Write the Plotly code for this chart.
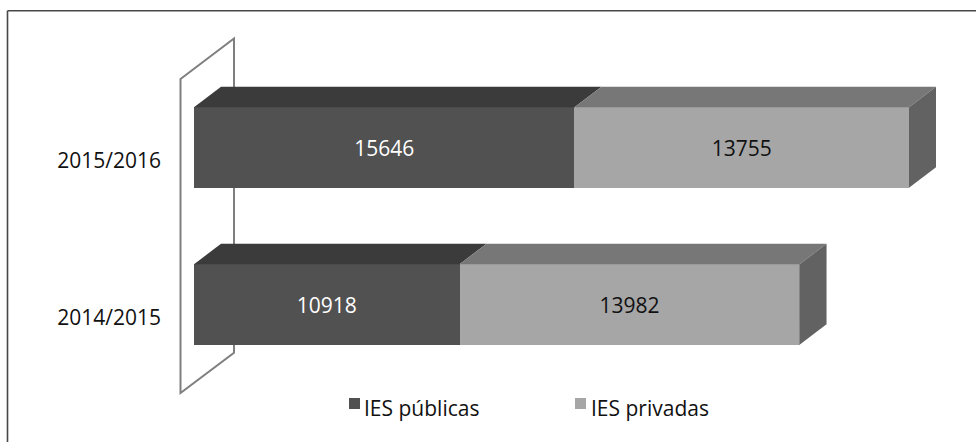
import plotly.graph_objects as go

# Data
years = ["2014/2015", "2015/2016"]
series_names = ["IES públicas", "IES privadas"]
publicas = [10918, 15646]
privadas = [13982, 13755]
y_pos = [0, 1]

W, H = 976, 442
ML = 170
PX_PER_UNIT = 715 / 29401
PX_PER_CAT = 157
X0_PX, Y1_PX = 194, 147.5
FONT = "Open Sans"
DARK, LIGHT = "#515151", "#a6a6a6"

DX = 27 / PX_PER_UNIT
DY = 20.5 / PX_PER_CAT
HALF = 40.25 / PX_PER_CAT
LABEL_DROP = 13 / PX_PER_CAT

xr = [(ML - X0_PX) / PX_PER_UNIT, (W - X0_PX) / PX_PER_UNIT]
yr = [1 - (H - Y1_PX) / PX_PER_CAT, 1 + Y1_PX / PX_PER_CAT]


def paper_x(px):
    return (px - ML) / (W - ML)


def paper_y(py):
    return 1 - py / H


def face(xs, ys, color):
    return go.Scatter(x=xs, y=ys, mode="lines", fill="toself", fillcolor=color,
                      line=dict(width=0, color=color), showlegend=False, hoverinfo="skip")


fig = go.Figure()
fig.add_trace(go.Bar(name=series_names[0], y=y_pos, x=publicas, orientation="h",
                     marker=dict(color=DARK, line=dict(width=0)), text=publicas,
                     textposition="inside", insidetextanchor="middle", textangle=0,
                     insidetextfont=dict(color="white", size=21, family=FONT)))
fig.add_trace(go.Bar(name=series_names[1], y=y_pos, x=privadas, orientation="h",
                     marker=dict(color=LIGHT, line=dict(width=0)), text=privadas,
                     textposition="inside", insidetextanchor="middle", textangle=0,
                     insidetextfont=dict(color="#111111", size=21, family=FONT)))

for y, a, b in zip(y_pos, publicas, privadas):
    top = y + HALF
    bot = y - HALF
    fig.add_trace(face([0, a, a + DX, DX, 0], [top, top, top + DY, top + DY, top], "#3b3b3b"))
    fig.add_trace(face([a, a + b, a + b + DX, a + DX, a], [top, top, top + DY, top + DY, top], "#777777"))
    fig.add_trace(face([a + b, a + b + DX, a + b + DX, a + b, a + b],
                       [top, top + DY, bot + DY, bot, top], "#626262"))

# Back wall of the 3D plot, behind the bars
wx0, wx1 = -13.5 / PX_PER_UNIT, 40 / PX_PER_UNIT
fig.add_shape(type="path", layer="below", xref="x", yref="y",
              path=f"M{wx0},{1 + 68.5 / PX_PER_CAT} L{wx1},{1 + 109 / PX_PER_CAT} "
                   f"L{wx1},{-48.2 / PX_PER_CAT} L{wx0},{-88.5 / PX_PER_CAT} Z",
              line=dict(color="#7f7f7f", width=2))

# Frame: top and left edges only, running off the page
for x0, y0, x1, y1 in [(7.5, 10.7, W, 10.7), (7.5, 10.7, 7.5, H)]:
    fig.add_shape(type="line", xref="paper", yref="paper", layer="below",
                  x0=paper_x(x0), x1=paper_x(x1), y0=paper_y(y0), y1=paper_y(y1),
                  line=dict(color="#484848", width=1.6))

# Legend
for name, color, sw_x, tx_x in zip(series_names, [DARK, LIGHT], [349, 575], [362, 589]):
    fig.add_shape(type="rect", xref="paper", yref="paper", x0=paper_x(sw_x), x1=paper_x(sw_x + 11),
                  y0=paper_y(409), y1=paper_y(398), fillcolor=color, line=dict(width=0))
    fig.add_annotation(xref="paper", yref="paper", x=paper_x(tx_x), y=paper_y(408), text=name,
                       showarrow=False, xanchor="left", yanchor="middle",
                       font=dict(size=21, family=FONT, color="#111111"))

fig.update_layout(
    width=W, height=H, barmode="stack", bargap=1 - 2 * HALF, showlegend=False,
    margin=dict(l=ML, r=0, t=0, b=0), paper_bgcolor="white", plot_bgcolor="rgba(0,0,0,0)",
    font=dict(family=FONT, size=21, color="#111111"),
    xaxis=dict(range=xr, visible=False, fixedrange=True),
    yaxis=dict(range=yr, tickmode="array", tickvals=[y - LABEL_DROP for y in y_pos], ticktext=years,
               showgrid=False, zeroline=False, showline=False, ticks="", ticklabelstandoff=8,
               fixedrange=True),
)

fig.write_html("out.html", config={"displayModeBar": False},
               post_script="document.documentElement.style.overflow='hidden';"
                           "document.body.style.margin='0';")
